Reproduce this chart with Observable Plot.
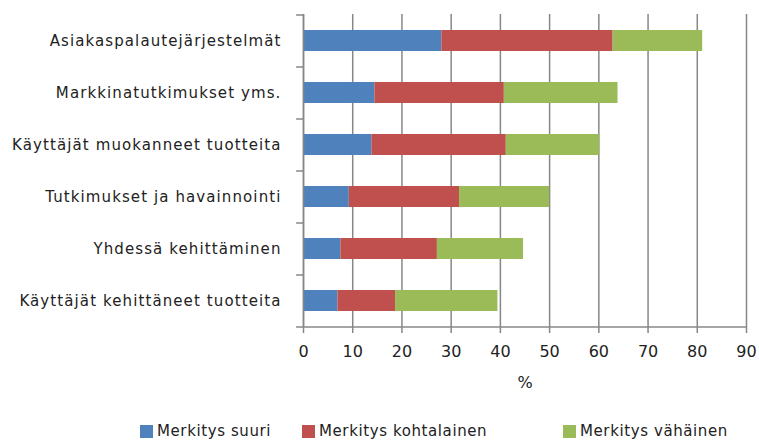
<!DOCTYPE html>
<html>
<head>
<meta charset="utf-8">
<script src="https://cdn.jsdelivr.net/npm/d3@7"></script>
<script src="https://cdn.jsdelivr.net/npm/@observablehq/plot@0.6"></script>
<style>
  html, body { margin: 0; padding: 0; background: #fff; }
  #chart { width: 759px; height: 441px; position: relative; font-family: "DejaVu Sans", sans-serif; color: #222; }
  #legend { position: absolute; left: 0; top: 420px; width: 759px; height: 21px; font-size: 15px; letter-spacing: 0.6px; }
  .item { position: absolute; top: 2px; display: flex; align-items: center; gap: 4px; white-space: nowrap; }
  .sw { width: 13px; height: 13px; display: inline-block; }
  g[aria-label="y-axis tick label"] text { letter-spacing: 1.1px; }
</style>
</head>
<body>
<div id="chart"></div>
<script>
const categories = [
  "Asiakaspalautejärjestelmät",
  "Markkinatutkimukset yms.",
  "Käyttäjät muokanneet tuotteita",
  "Tutkimukset ja havainnointi",
  "Yhdessä kehittäminen",
  "Käyttäjät kehittäneet tuotteita"
];
const seriesNames = ["Merkitys suuri", "Merkitys kohtalainen", "Merkitys vähäinen"];
const seriesColors = ["#4F81BD", "#C0504D", "#9BBB59"];
const suuri =        [28.1, 14.5, 13.9, 9.3, 7.6, 7.0];
const kohtalainen =  [34.8, 26.3, 27.3, 22.4, 19.6, 11.7];
const vahainen =     [18.2, 23.1, 19.0, 18.3, 17.5, 20.8];
const xTicks = [0, 10, 20, 30, 40, 50, 60, 70, 80, 90];

const seriesValues = [suuri, kohtalainen, vahainen];
const rows = [];
categories.forEach((c, i) => {
  seriesNames.forEach((s, j) => rows.push({category: c, series: s, value: seriesValues[j][i]}));
});

const grid = "#878787";
const plot = Plot.plot({
  width: 759,
  height: 410,
  marginLeft: 303,
  marginRight: 13,
  marginTop: 14,
  marginBottom: 84,
  style: {fontFamily: "DejaVu Sans, sans-serif", fontSize: "15px", color: "#222", background: "#fff"},
  x: {domain: [0, 90], ticks: xTicks, label: "%"},
  y: {domain: categories, paddingInner: 0.6, paddingOuter: 0.3, label: null},
  color: {domain: seriesNames, range: seriesColors},
  marks: [
    Plot.gridX(xTicks, {stroke: grid, strokeOpacity: 1, strokeWidth: 1.5}),
    Plot.barX(rows, Plot.stackX({y: "category", x: "value", fill: "series", order: seriesNames})),
    Plot.ruleX([0], {stroke: grid, strokeWidth: 1.5}),
    Plot.ruleY([0], {y: () => categories[categories.length - 1], x1: 0, x2: 90, dy: 26, stroke: grid, strokeWidth: 1.5}),
    Plot.ruleY(categories, {y: d => d, x1: -1.4, x2: 0, dy: -26, stroke: grid, strokeWidth: 1.5}),
    Plot.ruleY([categories[categories.length - 1]], {y: d => d, x1: -1.4, x2: 0, dy: 26, stroke: grid, strokeWidth: 1.5}),
    Plot.axisX(xTicks, {tickSize: 7, tickPadding: 12, stroke: grid, strokeWidth: 1.5, fontSize: 16, fill: "#222",
      label: "%", labelAnchor: "center", labelArrow: "none", labelOffset: 61}),
    Plot.axisY({tickSize: 0, tickPadding: 22, fontSize: 15, fill: "#222", label: null})
  ]
});
document.getElementById("chart").appendChild(plot);

const legend = document.createElement("div");
legend.id = "legend";
const lefts = [140, 302, 563];
seriesNames.forEach((s, i) => {
  const it = document.createElement("div");
  it.className = "item";
  it.style.left = lefts[i] + "px";
  const sw = document.createElement("span");
  sw.className = "sw";
  sw.style.background = seriesColors[i];
  const t = document.createElement("span");
  t.textContent = s;
  it.appendChild(sw); it.appendChild(t);
  legend.appendChild(it);
});
document.getElementById("chart").appendChild(legend);
</script>
</body>
</html>
